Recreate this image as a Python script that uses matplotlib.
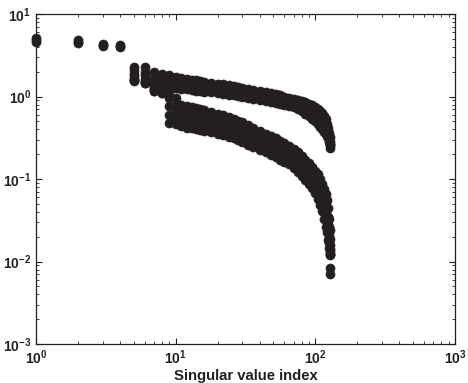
import matplotlib
matplotlib.use("Agg")
import matplotlib.pyplot as plt
from matplotlib.ticker import LogLocator, FuncFormatter, NullFormatter
import numpy as np

plt.rcParams['font.family'] = ['Liberation Sans', 'DejaVu Sans']
plt.rcParams['mathtext.fontset'] = 'custom'
plt.rcParams['mathtext.rm'] = 'Liberation Sans:bold'
plt.rcParams['mathtext.bf'] = 'Liberation Sans:bold'

# first four singular values (shared by all runs): top / middle / bottom of spread
head_idx = [1, 2, 3, 4]
head_top = [5.10, 4.85, 4.35, 4.25]
head_mid = [4.80, 4.60, 4.20, 4.12]
head_bot = [4.55, 4.40, 4.10, 4.00]

# upper band (index 5..128)
idx_u = [5, 6, 7, 8, 9, 10, 11, 12, 13, 14, 15, 16, 18, 20, 22, 24, 26, 28, 30, 33,
         36, 40, 44, 48, 52, 56, 60, 65, 70, 75, 80, 85, 90, 95, 100, 104, 108, 112, 116, 119,
         122, 124, 126, 127, 128]
upper_top = [2.30, 2.25, 2.00, 1.90, 1.80, 1.72, 1.68, 1.64, 1.60, 1.57, 1.54, 1.51, 1.47, 1.43, 1.40, 1.37, 1.34, 1.31, 1.28, 1.24,
             1.20, 1.16, 1.12, 1.09, 1.06, 1.03, 1.00, 0.97, 0.94, 0.91, 0.88, 0.85, 0.82, 0.78, 0.74, 0.71, 0.67, 0.63, 0.58, 0.53,
             0.47, 0.42, 0.36, 0.32, 0.27]
upper_mid = [1.89, 1.80, 1.70, 1.60, 1.53, 1.47, 1.45, 1.42, 1.39, 1.37, 1.35, 1.32, 1.29, 1.26, 1.23, 1.20, 1.18, 1.15, 1.13, 1.10,
             1.06, 1.03, 1.00, 0.97, 0.95, 0.92, 0.90, 0.87, 0.84, 0.80, 0.76, 0.72, 0.68, 0.64, 0.60, 0.57, 0.53, 0.50, 0.46, 0.43,
             0.40, 0.36, 0.32, 0.29, 0.255]
upper_bot = [1.56, 1.44, 1.45, 1.35, 1.30, 1.26, 1.24, 1.22, 1.20, 1.18, 1.16, 1.15, 1.12, 1.10, 1.07, 1.05, 1.03, 1.01, 0.99, 0.96,
             0.94, 0.91, 0.88, 0.86, 0.84, 0.82, 0.80, 0.77, 0.74, 0.70, 0.66, 0.62, 0.58, 0.54, 0.50, 0.46, 0.43, 0.40, 0.37, 0.35,
             0.33, 0.31, 0.28, 0.26, 0.24]

# lower band (index 5..128)
idx_l = [5, 6, 7, 8, 9, 10, 11, 12, 13, 14, 15, 16, 18, 20, 22, 24, 26, 28, 30, 33,
         36, 40, 44, 48, 52, 56, 60, 65, 70, 75, 80, 85, 90, 95, 100, 104, 108, 112, 116, 119,
         122, 124, 126, 127, 128]
lower_1 = [2.10, 2.00, 1.35, 1.28, 1.15, 0.95, 0.78, 0.76, 0.74, 0.72, 0.70, 0.68, 0.65, 0.62, 0.59, 0.56, 0.53, 0.51, 0.49, 0.45,
           0.42, 0.38, 0.35, 0.33, 0.31, 0.29, 0.27, 0.25, 0.23, 0.21, 0.19, 0.17, 0.155, 0.14, 0.125, 0.115, 0.100, 0.088, 0.076, 0.066,
           0.056, 0.045, 0.033, 0.024, 0.0135]
lower_2 = [1.75, 1.65, 1.28, 1.20, 0.95, 0.80, 0.69, 0.66, 0.64, 0.62, 0.61, 0.59, 0.565, 0.54, 0.51, 0.49, 0.46, 0.445, 0.43, 0.39,
           0.37, 0.33, 0.31, 0.29, 0.27, 0.255, 0.24, 0.22, 0.20, 0.184, 0.166, 0.148, 0.134, 0.121, 0.107, 0.097, 0.084, 0.073, 0.062, 0.052,
           0.045, 0.035, 0.026, 0.019, 0.0125]
lower_3 = [1.65, 1.55, 1.22, 1.15, 0.76, 0.66, 0.59, 0.57, 0.55, 0.54, 0.52, 0.51, 0.49, 0.47, 0.45, 0.43, 0.405, 0.39, 0.37, 0.34,
           0.32, 0.29, 0.27, 0.254, 0.238, 0.224, 0.209, 0.194, 0.178, 0.161, 0.145, 0.128, 0.116, 0.104, 0.092, 0.082, 0.070, 0.060, 0.050, 0.041,
           0.036, 0.028, 0.021, 0.016, 0.0120]
lower_4 = [1.60, 1.50, 1.18, 1.10, 0.60, 0.55, 0.51, 0.49, 0.48, 0.46, 0.45, 0.44, 0.43, 0.41, 0.39, 0.37, 0.354, 0.338, 0.322, 0.298,
           0.28, 0.257, 0.239, 0.222, 0.209, 0.196, 0.184, 0.170, 0.156, 0.141, 0.126, 0.112, 0.100, 0.089, 0.078, 0.069, 0.059, 0.050, 0.041, 0.033,
           0.029, 0.022, 0.017, 0.014, 0.0083]
lower_5 = [1.58, 1.45, 1.18, 1.09, 0.48, 0.46, 0.44, 0.42, 0.41, 0.40, 0.39, 0.385, 0.37, 0.355, 0.34, 0.325, 0.31, 0.295, 0.28, 0.26,
           0.245, 0.225, 0.21, 0.195, 0.183, 0.172, 0.162, 0.15, 0.137, 0.123, 0.11, 0.097, 0.087, 0.077, 0.067, 0.058, 0.049, 0.041, 0.033, 0.026,
           0.023, 0.018, 0.0145, 0.0125, 0.0071]

ink = '#231f20'
fig = plt.figure(figsize=(4.68, 3.83), dpi=100)
ax = fig.add_axes([0.0769, 0.1018, 0.8953, 0.8616])

mk = dict(ls='none', marker='o', ms=6.5, mfc=ink, mec=ink, mew=0.5, clip_on=False)
for vals in (head_top, head_mid, head_bot):
    ax.plot(head_idx, vals, **mk)
for vals in (upper_top, upper_mid, upper_bot):
    ax.plot(idx_u, vals, **mk)
for vals in (lower_1, lower_2, lower_3, lower_4, lower_5):
    ax.plot(idx_l, vals, **mk)

ax.set_xscale('log')
ax.set_yscale('log')
ax.set_xlim(1, 1000)
ax.set_ylim(1e-3, 10)

fmt = FuncFormatter(lambda v, p: r'$\mathbf{10^{%d}}$' % int(round(np.log10(v))))
ax.xaxis.set_major_locator(LogLocator(base=10, numticks=10))
ax.yaxis.set_major_locator(LogLocator(base=10, numticks=10))
ax.xaxis.set_minor_locator(LogLocator(base=10, subs=np.arange(2, 10), numticks=20))
ax.yaxis.set_minor_locator(LogLocator(base=10, subs=np.arange(2, 10), numticks=20))
ax.xaxis.set_major_formatter(fmt)
ax.yaxis.set_major_formatter(fmt)
ax.xaxis.set_minor_formatter(NullFormatter())
ax.yaxis.set_minor_formatter(NullFormatter())

ax.tick_params(which='both', direction='in', top=True, right=True, colors=ink, labelsize=10)
ax.tick_params(which='major', length=4, width=0.8)
ax.tick_params(which='minor', length=2.2, width=0.6)
for s in ax.spines.values():
    s.set_linewidth(0.9)
    s.set_color(ink)

ax.set_xlabel('Singular value index', fontsize=10.7, fontweight='bold', color=ink, labelpad=1)

fig.savefig('out.png', dpi=100)
